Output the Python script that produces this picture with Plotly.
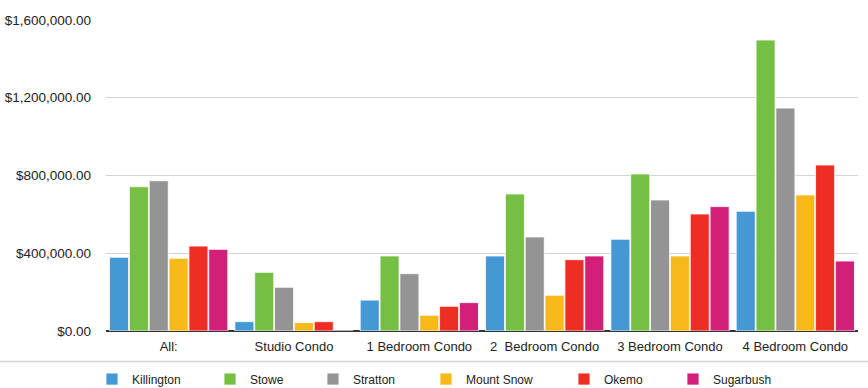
import plotly.graph_objects as go

categories = ["All:", "Studio Condo", "1 Bedroom Condo", "2  Bedroom Condo", "3 Bedroom Condo", "4 Bedroom Condo"]
killington = [379000, 48000, 159000, 386000, 472000, 616000]
stowe = [742000, 302000, 386000, 705000, 808000, 1497000]
stratton = [773000, 225000, 295000, 484000, 674000, 1147000]
mount_snow = [374000, 43000, 81000, 184000, 386000, 700000]
okemo = [437000, 48000, 127000, 367000, 602000, 854000]
sugarbush = [420000, 0, 146000, 386000, 640000, 360000]

series_names = ["Killington", "Stowe", "Stratton", "Mount Snow", "Okemo", "Sugarbush"]
series_values = [killington, stowe, stratton, mount_snow, okemo, sugarbush]
colors = ["#4499d5", "#74bf44", "#949494", "#f6b919", "#ee2e24", "#d41f78"]
legend_widths = [73, 58, 68, 93, 64, 60]

tick_vals = [0, 400000, 800000, 1200000, 1600000]
tick_text = ["$0.00", "$400,000.00", "$800,000.00", "$1,200,000.00", "$1,600,000.00"]

fig = go.Figure()
for name, vals, col, lw in zip(series_names, series_values, colors, legend_widths):
    fig.add_trace(go.Bar(
        x=categories, y=vals, name=name, legendwidth=lw,
        marker=dict(color=col, line=dict(color="rgba(255,255,255,0.8)", width=1)),
    ))

fig.update_layout(
    width=868, height=388,
    margin=dict(l=106, r=10, t=20, b=57),
    paper_bgcolor="white", plot_bgcolor="white",
    barmode="group", bargap=0.05, bargroupgap=0.04,
    font=dict(family="Liberation Sans, Arial, sans-serif", size=12, color="#222"),
    showlegend=True,
    legend=dict(
        orientation="h", xref="container", yref="container",
        x=0.106, y=0.023, xanchor="left", yanchor="middle",
        font=dict(size=12, color="#222"),
        itemclick=False,
    ),
    xaxis=dict(
        showgrid=False, showline=False, ticks="", tickfont=dict(size=13),
        ticklabelstandoff=6, fixedrange=True, automargin=False,
    ),
    yaxis=dict(
        range=[0, 1600000], tickvals=tick_vals, ticktext=tick_text,
        showgrid=True, gridcolor="#d4d4d4", gridwidth=1,
        zeroline=True, zerolinecolor="#333", zerolinewidth=1.5,
        showline=False, ticks="", ticklabelstandoff=14, tickfont=dict(size=13.5),
        fixedrange=True, automargin=False,
    ),
    shapes=[dict(
        type="line", xref="paper", yref="paper",
        x0=-0.5, x1=1.5, y0=(331-361.5)/311, y1=(331-361.5)/311,
        line=dict(color="#d4d4d4", width=1.5),
    )],
)

fig.write_html("out.html")
